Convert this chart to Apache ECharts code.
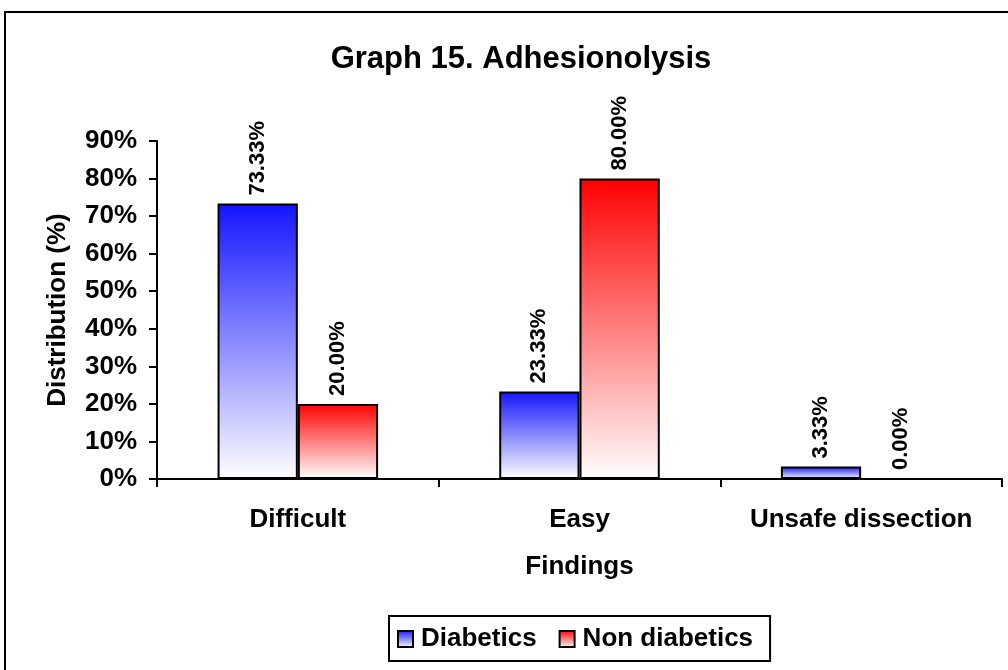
<!DOCTYPE html>
<html>
<head>
<meta charset="utf-8">
<script src="https://cdn.jsdelivr.net/npm/echarts@6/dist/echarts.min.js"></script>
<style>
html,body{margin:0;padding:0;background:#fff;}
#chart{width:1008px;height:670px;}
</style>
</head>
<body>
<div id="chart"></div>
<script>
const titleText = 'Graph 15. Adhesionolysis';
const categories = ['Difficult', 'Easy', 'Unsafe dissection'];
const seriesNames = ['Diabetics', 'Non diabetics'];
const diabetics = [73.33, 23.33, 3.33];
const nonDiabetics = [20.00, 80.00, 0.00];
const yTicks = [0, 10, 20, 30, 40, 50, 60, 70, 80, 90];
const xAxisName = 'Findings';
const yAxisName = 'Distribution (%)';

const FONT = '"Liberation Sans", Arial, sans-serif';
const chart = echarts.init(document.getElementById('chart'), null, {renderer: 'canvas'});

function grad(top) {
  return {type: 'linear', x: 0, y: 0, x2: 0, y2: 1,
    colorStops: [{offset: 0, color: top}, {offset: 1, color: '#ffffff'}]};
}
const labelCfg = {
  show: true, position: 'top', rotate: 90, distance: 8,
  align: 'left', verticalAlign: 'middle',
  fontFamily: FONT, fontWeight: 'bold', fontSize: 22, color: '#000',
  formatter: p => p.value.toFixed(2) + '%'
};

chart.setOption({
  backgroundColor: '#fff',
  animation: false,
  title: {
    text: titleText, left: 516, top: 39, textAlign: 'center',
    textStyle: {fontFamily: FONT, fontWeight: 'bold', fontSize: 31, color: '#000'}
  },
  graphic: [{
    type: 'rect', shape: {x: 5, y: 12, width: 1030, height: 680},
    style: {fill: 'none', stroke: '#000', lineWidth: 2}, silent: true, z: 100
  }],
  legend: {
    data: seriesNames, left: 389, top: 616, orient: 'horizontal',
    icon: 'rect', itemWidth: 15, itemHeight: 16, itemGap: 22,
    borderColor: '#000', borderWidth: 2, padding: [10, 17, 9, 8],
    textStyle: {fontFamily: FONT, fontWeight: 'bold', fontSize: 26, color: '#000', padding: [0, 0, 0, 3]}
  },
  grid: {left: 157, right: 6, top: 141, bottom: 191, containLabel: false},
  xAxis: {
    type: 'category', data: categories,
    name: xAxisName, nameLocation: 'middle', nameGap: 75,
    nameTextStyle: {fontFamily: FONT, fontWeight: 'bold', fontSize: 26, color: '#000'},
    axisLine: {lineStyle: {color: '#000', width: 2}},
    axisTick: {show: true, alignWithLabel: false, length: 8, lineStyle: {color: '#000', width: 2}},
    axisLabel: {interval: 0, hideOverlap: false, fontFamily: FONT, fontWeight: 'bold', fontSize: 26, color: '#000', margin: 28},
    splitLine: {show: false}
  },
  yAxis: {
    type: 'value', min: yTicks[0], max: yTicks[yTicks.length - 1], interval: 10,
    name: yAxisName, nameLocation: 'middle', nameGap: 86, nameRotate: 90,
    nameTextStyle: {fontFamily: FONT, fontWeight: 'bold', fontSize: 26, color: '#000'},
    axisLine: {show: true, lineStyle: {color: '#000', width: 2}},
    axisTick: {show: true, length: 8, lineStyle: {color: '#000', width: 2}},
    axisLabel: {fontFamily: FONT, fontWeight: 'bold', fontSize: 26, color: '#000', margin: 20,
      formatter: '{value}%'},
    splitLine: {show: false}
  },
  series: [
    {name: seriesNames[0], type: 'bar', data: diabetics, barGap: '0%', barCategoryGap: '43%',
     itemStyle: {color: grad('#1414ff'), borderColor: '#000', borderWidth: 2}, label: labelCfg},
    {name: seriesNames[1], type: 'bar', data: nonDiabetics, barGap: '0%', barCategoryGap: '43%',
     itemStyle: {color: grad('#ff0000'), borderColor: '#000', borderWidth: 2}, label: labelCfg}
  ]
});
</script>
</body>
</html>
